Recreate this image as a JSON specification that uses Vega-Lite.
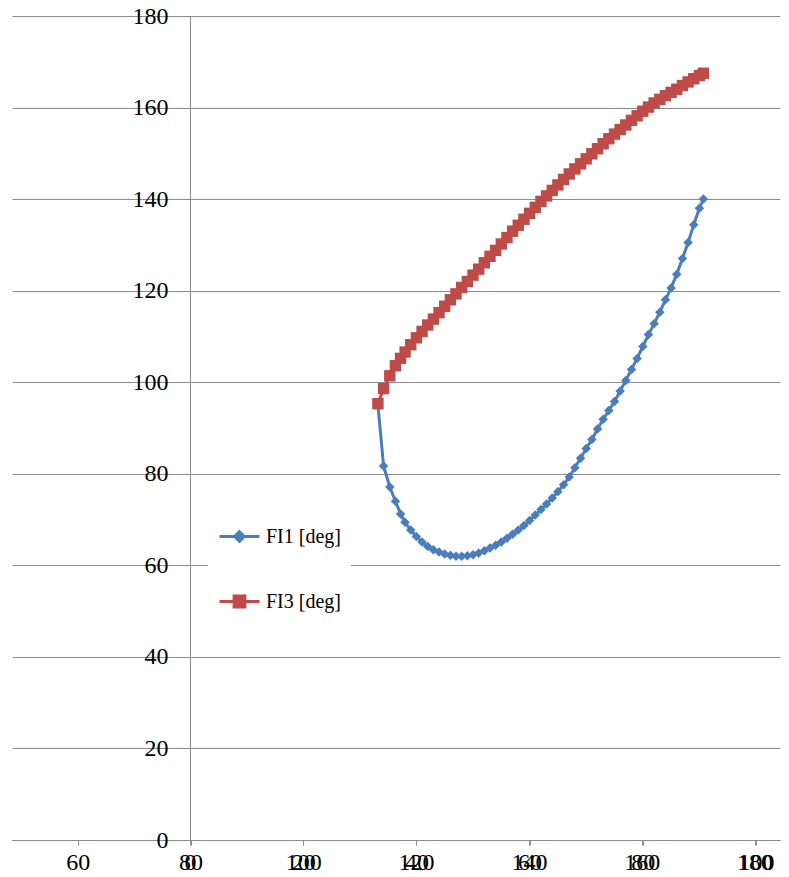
{
  "$schema": "https://vega.github.io/schema/vega-lite/v6.json",
  "width": 768,
  "height": 824,
  "autosize": "none",
  "padding": {"left": 12, "top": 16, "right": 9, "bottom": 37},
  "background": "white",
  "config": {
    "view": {"stroke": null},
    "font": "Liberation Serif",
    "axis": {
      "labelFont": "Liberation Serif",
      "labelFontSize": 24,
      "labelColor": "black",
      "domainColor": "#8c8c8c",
      "tickColor": "#8c8c8c",
      "gridColor": "#8c8c8c",
      "gridOpacity": 1,
      "title": null
    }
  },
  "data": {
    "values": [
      {"x": 33.2, "series": "FI1 [deg]", "v": 95.1}, {"x": 33.2, "series": "FI3 [deg]", "v": 95.3},
      {"x": 34.2, "series": "FI1 [deg]", "v": 81.7}, {"x": 34.2, "series": "FI3 [deg]", "v": 98.6},
      {"x": 35.3, "series": "FI1 [deg]", "v": 77.1}, {"x": 35.3, "series": "FI3 [deg]", "v": 101.4},
      {"x": 36.3, "series": "FI1 [deg]", "v": 74.0}, {"x": 36.3, "series": "FI3 [deg]", "v": 103.6},
      {"x": 37.2, "series": "FI1 [deg]", "v": 71.2}, {"x": 37.2, "series": "FI3 [deg]", "v": 105.2},
      {"x": 38, "series": "FI1 [deg]", "v": 69.4}, {"x": 38, "series": "FI3 [deg]", "v": 106.6},
      {"x": 39, "series": "FI1 [deg]", "v": 67.7}, {"x": 39, "series": "FI3 [deg]", "v": 108.2},
      {"x": 40, "series": "FI1 [deg]", "v": 66.3}, {"x": 40, "series": "FI3 [deg]", "v": 109.7},
      {"x": 41, "series": "FI1 [deg]", "v": 65.1}, {"x": 41, "series": "FI3 [deg]", "v": 111.1},
      {"x": 42, "series": "FI1 [deg]", "v": 64.1}, {"x": 42, "series": "FI3 [deg]", "v": 112.5},
      {"x": 43, "series": "FI1 [deg]", "v": 63.4}, {"x": 43, "series": "FI3 [deg]", "v": 113.8},
      {"x": 44, "series": "FI1 [deg]", "v": 62.9}, {"x": 44, "series": "FI3 [deg]", "v": 115.2},
      {"x": 45, "series": "FI1 [deg]", "v": 62.5}, {"x": 45, "series": "FI3 [deg]", "v": 116.6},
      {"x": 46, "series": "FI1 [deg]", "v": 62.2}, {"x": 46, "series": "FI3 [deg]", "v": 118.0},
      {"x": 47, "series": "FI1 [deg]", "v": 62.0}, {"x": 47, "series": "FI3 [deg]", "v": 119.3},
      {"x": 48, "series": "FI1 [deg]", "v": 62.0}, {"x": 48, "series": "FI3 [deg]", "v": 120.7},
      {"x": 49, "series": "FI1 [deg]", "v": 62.1}, {"x": 49, "series": "FI3 [deg]", "v": 122.0},
      {"x": 50, "series": "FI1 [deg]", "v": 62.3}, {"x": 50, "series": "FI3 [deg]", "v": 123.4},
      {"x": 51, "series": "FI1 [deg]", "v": 62.7}, {"x": 51, "series": "FI3 [deg]", "v": 124.7},
      {"x": 52, "series": "FI1 [deg]", "v": 63.2}, {"x": 52, "series": "FI3 [deg]", "v": 126.1},
      {"x": 53, "series": "FI1 [deg]", "v": 63.8}, {"x": 53, "series": "FI3 [deg]", "v": 127.5},
      {"x": 54, "series": "FI1 [deg]", "v": 64.4}, {"x": 54, "series": "FI3 [deg]", "v": 128.8},
      {"x": 55, "series": "FI1 [deg]", "v": 65.1}, {"x": 55, "series": "FI3 [deg]", "v": 130.2},
      {"x": 56, "series": "FI1 [deg]", "v": 65.9}, {"x": 56, "series": "FI3 [deg]", "v": 131.6},
      {"x": 57, "series": "FI1 [deg]", "v": 66.8}, {"x": 57, "series": "FI3 [deg]", "v": 133.0},
      {"x": 58, "series": "FI1 [deg]", "v": 67.7}, {"x": 58, "series": "FI3 [deg]", "v": 134.3},
      {"x": 59, "series": "FI1 [deg]", "v": 68.7}, {"x": 59, "series": "FI3 [deg]", "v": 135.6},
      {"x": 60, "series": "FI1 [deg]", "v": 69.8}, {"x": 60, "series": "FI3 [deg]", "v": 136.9},
      {"x": 61, "series": "FI1 [deg]", "v": 71.0}, {"x": 61, "series": "FI3 [deg]", "v": 138.2},
      {"x": 62, "series": "FI1 [deg]", "v": 72.2}, {"x": 62, "series": "FI3 [deg]", "v": 139.5},
      {"x": 63, "series": "FI1 [deg]", "v": 73.4}, {"x": 63, "series": "FI3 [deg]", "v": 140.7},
      {"x": 64, "series": "FI1 [deg]", "v": 74.7}, {"x": 64, "series": "FI3 [deg]", "v": 141.9},
      {"x": 65, "series": "FI1 [deg]", "v": 76.1}, {"x": 65, "series": "FI3 [deg]", "v": 143.1},
      {"x": 66, "series": "FI1 [deg]", "v": 77.6}, {"x": 66, "series": "FI3 [deg]", "v": 144.3},
      {"x": 67, "series": "FI1 [deg]", "v": 79.3}, {"x": 67, "series": "FI3 [deg]", "v": 145.5},
      {"x": 68, "series": "FI1 [deg]", "v": 81.3}, {"x": 68, "series": "FI3 [deg]", "v": 146.6},
      {"x": 69, "series": "FI1 [deg]", "v": 83.4}, {"x": 69, "series": "FI3 [deg]", "v": 147.7},
      {"x": 70, "series": "FI1 [deg]", "v": 85.5}, {"x": 70, "series": "FI3 [deg]", "v": 148.8},
      {"x": 71, "series": "FI1 [deg]", "v": 87.5}, {"x": 71, "series": "FI3 [deg]", "v": 149.9},
      {"x": 72, "series": "FI1 [deg]", "v": 89.8}, {"x": 72, "series": "FI3 [deg]", "v": 151.0},
      {"x": 73, "series": "FI1 [deg]", "v": 91.9}, {"x": 73, "series": "FI3 [deg]", "v": 152.1},
      {"x": 74, "series": "FI1 [deg]", "v": 93.8}, {"x": 74, "series": "FI3 [deg]", "v": 153.2},
      {"x": 75, "series": "FI1 [deg]", "v": 95.8}, {"x": 75, "series": "FI3 [deg]", "v": 154.2},
      {"x": 76, "series": "FI1 [deg]", "v": 98.1}, {"x": 76, "series": "FI3 [deg]", "v": 155.2},
      {"x": 77, "series": "FI1 [deg]", "v": 100.4}, {"x": 77, "series": "FI3 [deg]", "v": 156.2},
      {"x": 78, "series": "FI1 [deg]", "v": 102.8}, {"x": 78, "series": "FI3 [deg]", "v": 157.2},
      {"x": 79, "series": "FI1 [deg]", "v": 105.2}, {"x": 79, "series": "FI3 [deg]", "v": 158.2},
      {"x": 80, "series": "FI1 [deg]", "v": 107.8}, {"x": 80, "series": "FI3 [deg]", "v": 159.2},
      {"x": 81, "series": "FI1 [deg]", "v": 110.4}, {"x": 81, "series": "FI3 [deg]", "v": 160.1},
      {"x": 82, "series": "FI1 [deg]", "v": 112.8}, {"x": 82, "series": "FI3 [deg]", "v": 161.0},
      {"x": 83, "series": "FI1 [deg]", "v": 115.3}, {"x": 83, "series": "FI3 [deg]", "v": 161.8},
      {"x": 84, "series": "FI1 [deg]", "v": 118.0}, {"x": 84, "series": "FI3 [deg]", "v": 162.6},
      {"x": 85, "series": "FI1 [deg]", "v": 120.6}, {"x": 85, "series": "FI3 [deg]", "v": 163.3},
      {"x": 86, "series": "FI1 [deg]", "v": 123.6}, {"x": 86, "series": "FI3 [deg]", "v": 164.0},
      {"x": 87, "series": "FI1 [deg]", "v": 127.0}, {"x": 87, "series": "FI3 [deg]", "v": 164.8},
      {"x": 88, "series": "FI1 [deg]", "v": 130.5}, {"x": 88, "series": "FI3 [deg]", "v": 165.6},
      {"x": 89, "series": "FI1 [deg]", "v": 134.4}, {"x": 89, "series": "FI3 [deg]", "v": 166.3},
      {"x": 90, "series": "FI1 [deg]", "v": 138.0}, {"x": 90, "series": "FI3 [deg]", "v": 167.0},
      {"x": 90.7, "series": "FI1 [deg]", "v": 140.0}, {"x": 90.7, "series": "FI3 [deg]", "v": 167.5}
    ]
  },
  "layer": [
    {
      "encoding": {
        "x": {
          "field": "x",
          "type": "quantitative",
          "scale": {"domain": [-31.45, 104.24], "nice": false, "zero": false},
          "axis": {
            "orient": "bottom",
            "values": [0, 20, 40, 60, 80, 100],
            "grid": false,
            "domain": true,
            "ticks": true,
            "tickSize": 5,
            "labelPadding": 5,
            "labelFlush": false,
            "labelOverlap": false
          }
        },
        "y": {
          "field": "v",
          "type": "quantitative",
          "scale": {"domain": [0, 180], "nice": false},
          "axis": {
            "values": [0, 20, 40, 60, 80, 100, 120, 140, 160, 180],
            "offset": -178,
            "grid": true,
            "gridWidth": 1,
            "domain": true,
            "ticks": false,
            "labelPadding": 22,
            "labelFlush": false,
            "labelOverlap": false
          }
        }
      },
      "layer": [
        {
          "mark": {"type": "line", "strokeWidth": 3},
          "encoding": {
            "color": {
              "field": "series",
              "type": "nominal",
              "scale": {"domain": ["FI1 [deg]", "FI3 [deg]"], "range": ["#4A7EBB", "#BE4B48"]},
              "legend": {
                "orient": "none",
                "legendX": 196,
                "legendY": 489,
                "title": null,
                "fillColor": "white",
                "padding": 10,
                "labelFont": "Liberation Serif",
                "labelFontSize": 20,
                "labelColor": "black",
                "labelOffset": 5,
                "symbolSize": 1600,
                "symbolStrokeWidth": 3,
                "symbolType": "M-1,0H1",
                "rowPadding": 32,
                "encode": {
                  "symbols": {
                    "update": {
                      "shape": {"signal": "datum.value === 'FI1 [deg]' ? 'M-1,0H1M0,-0.24L0.24,0L0,0.24L-0.24,0Z' : 'M-1,0H1M-0.27,-0.27H0.27V0.27H-0.27Z'"},
                      "fill": {"signal": "datum.value === 'FI1 [deg]' ? '#4A7EBB' : '#BE4B48'"},
                      "stroke": {"signal": "datum.value === 'FI1 [deg]' ? '#4A7EBB' : '#BE4B48'"},
                      "opacity": {"value": 1}
                    }
                  }
                }
              }
            }
          }
        },
        {
          "transform": [{"filter": "datum.series === 'FI1 [deg]'"}],
          "mark": {"type": "point", "shape": "diamond", "filled": true, "size": 90, "opacity": 1, "color": "#4A7EBB"}
        },
        {
          "transform": [{"filter": "datum.series === 'FI3 [deg]'"}],
          "mark": {"type": "point", "shape": "square", "filled": true, "size": 130, "opacity": 1, "color": "#BE4B48"}
        }
      ]
    },
    {
      "mark": {"type": "point", "opacity": 0},
      "encoding": {
        "x": {
          "datum": 120,
          "type": "quantitative",
          "scale": {"domain": [48.35, 184.52], "nice": false, "zero": false},
          "axis": {
            "orient": "bottom",
            "values": [60, 80, 100, 120, 140, 160, 180],
            "grid": false,
            "domain": false,
            "ticks": true,
            "tickSize": 5,
            "labelPadding": 5,
            "labelFlush": false,
            "labelOverlap": false
          }
        }
      }
    }
  ],
  "resolve": {"scale": {"x": "independent"}, "axis": {"x": "independent"}}
}
